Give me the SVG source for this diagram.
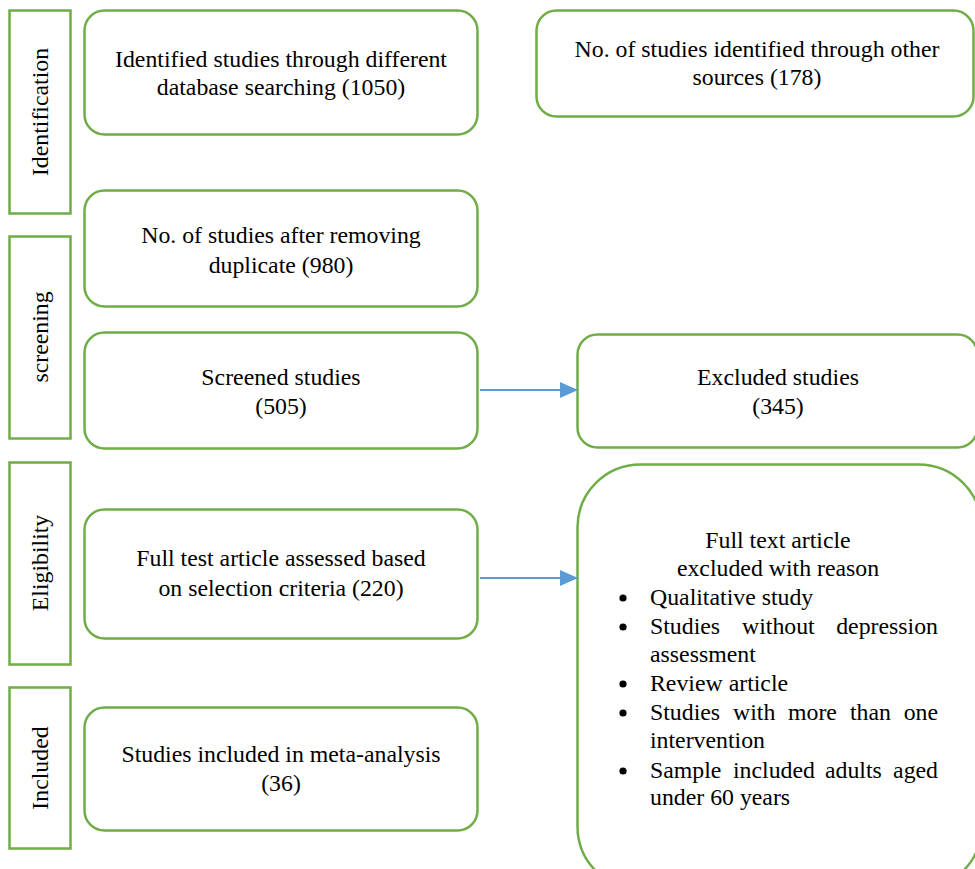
<svg xmlns="http://www.w3.org/2000/svg" width="975" height="869" viewBox="0 0 975 869">
<style>
.box{fill:#fff;stroke:#70AD47;stroke-width:2.5}
.t{font-family:"Liberation Serif","Times New Roman",serif;font-size:23.8px;fill:#000}
.c{text-anchor:middle}
.conn{stroke:#5B9BD5;stroke-width:2;fill:none}
</style>
<defs>
<marker id="ah" markerWidth="18" markerHeight="16" refX="17" refY="8" orient="auto" markerUnits="userSpaceOnUse" viewBox="0 0 18 16">
<path d="M0,0 L18,8 L0,16 Z" fill="#5B9BD5"/>
</marker>
</defs>
<rect width="975" height="869" fill="#fff"/>
<g id="stage-identification">
<rect class="box" x="9.5" y="10.5" width="61" height="203"/>
<text class="t c" font-family="Liberation Serif, serif" transform="translate(48,112) rotate(-90)">Identification</text>
</g>
<g id="stage-screening">
<rect class="box" x="9.5" y="236.5" width="61" height="202"/>
<text class="t c" transform="translate(48,337) rotate(-90)">screening</text>
</g>
<g id="stage-eligibility">
<rect class="box" x="9.5" y="462.5" width="61" height="202"/>
<text class="t c" transform="translate(48,563) rotate(-90)">Eligibility</text>
</g>
<g id="stage-included">
<rect class="box" x="9.5" y="687.5" width="61" height="161"/>
<text class="t c" transform="translate(48,768) rotate(-90)">Included</text>
</g>
<g id="db-search">
<rect class="box" x="84.5" y="10.5" width="393" height="124" rx="20"/>
<text class="t c" x="281" y="67">Identified studies through different</text>
<text class="t c" x="281" y="95">database searching (1050)</text>
</g>
<g id="other-sources">
<rect class="box" x="536.5" y="10.5" width="437" height="106" rx="20"/>
<text class="t c" x="757" y="57">No. of studies identified through other</text>
<text class="t c" x="757" y="85">sources (178)</text>
</g>
<g id="after-duplicates">
<rect class="box" x="84.5" y="190.5" width="393" height="116" rx="20"/>
<text class="t c" x="281" y="243">No. of studies after removing</text>
<text class="t c" x="281" y="273">duplicate (980)</text>
</g>
<g id="screened">
<rect class="box" x="84.5" y="332.5" width="393" height="116" rx="20"/>
<text class="t c" x="281" y="385">Screened studies</text>
<text class="t c" x="281" y="414">(505)</text>
</g>
<g id="excluded">
<rect class="box" x="577.5" y="334.5" width="400" height="113" rx="20"/>
<text class="t c" x="778" y="385">Excluded studies</text>
<text class="t c" x="778" y="414">(345)</text>
</g>
<g id="full-text">
<rect class="box" x="84.5" y="509.5" width="393" height="129" rx="20"/>
<text class="t c" x="281" y="566">Full test article assessed based</text>
<text class="t c" x="281" y="596">on selection criteria (220)</text>
</g>
<g id="included">
<rect class="box" x="84.5" y="707.5" width="393" height="123" rx="20"/>
<text class="t c" x="281" y="762">Studies included in meta-analysis</text>
<text class="t c" x="281" y="791">(36)</text>
</g>
<g id="full-text-excluded">
<rect class="box" x="577.5" y="464.5" width="404" height="425" rx="63"/>
<text class="t c" x="778" y="548">Full text article</text>
<text class="t c" x="778" y="576">excluded with reason</text>
<g class="t">
<circle cx="623" cy="598" r="3.6"/>
<text x="650" y="605">Qualitative study</text>
<circle cx="623" cy="627" r="3.6"/>
<text x="650" y="634">Studies</text>
<text x="742" y="634">without</text>
<text x="938" y="634" text-anchor="end">depression</text>
<text x="650" y="662">assessment</text>
<circle cx="623" cy="684" r="3.6"/>
<text x="650" y="691">Review article</text>
<circle cx="623" cy="713" r="3.6"/>
<text x="650" y="720">Studies</text>
<text x="733" y="720">with</text>
<text x="788" y="720">more</text>
<text x="850" y="720">than</text>
<text x="938" y="720" text-anchor="end">one</text>
<text x="650" y="748">intervention</text>
<circle cx="623" cy="771" r="3.6"/>
<text x="650" y="778">Sample</text>
<text x="733" y="778">included</text>
<text x="825" y="778">adults</text>
<text x="938" y="778" text-anchor="end">aged</text>
<text x="650" y="805">under 60 years</text>
</g>
</g>
<g id="connectors">
<line class="conn" x1="480" y1="390" x2="577" y2="390" marker-end="url(#ah)"/>
<line class="conn" x1="480" y1="578" x2="577" y2="578" marker-end="url(#ah)"/>
</g>
</svg>
